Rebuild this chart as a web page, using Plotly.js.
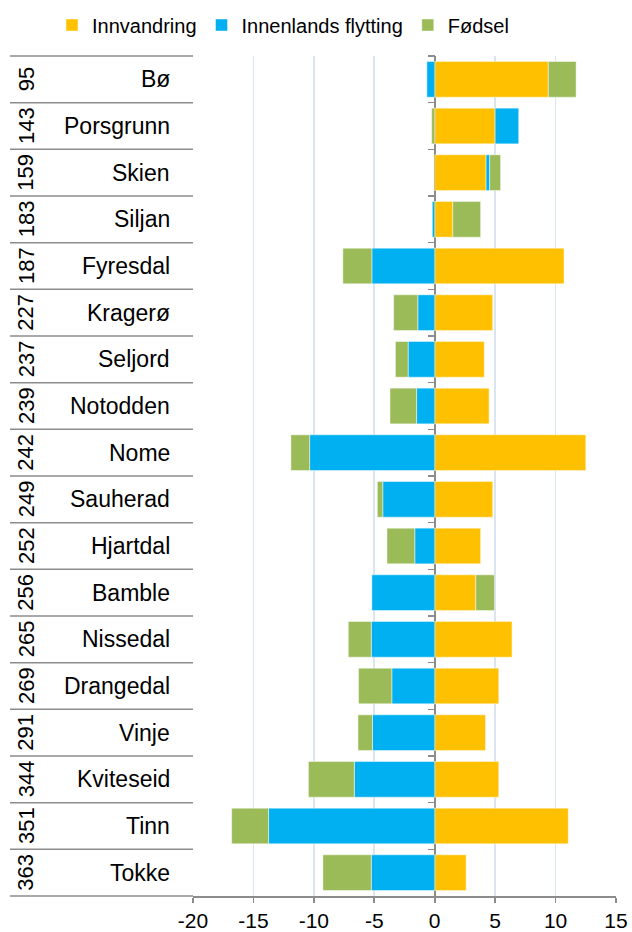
<!DOCTYPE html>
<html>
<head>
<meta charset="utf-8">
<script src="https://cdn.plot.ly/plotly-3.0.1.min.js"></script>
<style>html,body{margin:0;padding:0;background:#fff;}#chart{width:632px;height:932px;}</style>
</head>
<body>
<div id="chart"></div>
<script>
const ranks = [95,143,159,183,187,227,237,239,242,249,252,256,265,269,291,344,351,363];
const names = ['Bø','Porsgrunn','Skien','Siljan','Fyresdal','Kragerø','Seljord','Notodden','Nome','Sauherad','Hjartdal','Bamble','Nissedal','Drangedal','Vinje','Kviteseid','Tinn','Tokke'];
const innvandring = [9.4,5.0,4.25,1.5,10.7,4.8,4.1,4.5,12.5,4.8,3.8,3.4,6.4,5.3,4.2,5.3,11.05,2.6];
const innenlands = [-0.65,1.95,0.3,-0.2,-5.2,-1.4,-2.2,-1.5,-10.35,-4.3,-1.65,-5.2,-5.25,-3.55,-5.15,-6.65,-13.75,-5.25];
const fodsel = [2.3,-0.25,0.9,2.3,-2.4,-2.0,-1.05,-2.2,-1.55,-0.45,-2.3,1.55,-1.9,-2.75,-1.2,-3.8,-3.05,-4.0];
const seriesNames = ['Innvandring','Innenlands flytting','Fødsel'];
const xTicks = [-20,-15,-10,-5,0,5,10,15];

const colors = ['#FFC000','#00B0F0','#9BBB59'];
const font = 'Liberation Sans, Arial, sans-serif';
const W = 632, H = 932;
const mL = 193, mR = 16, mT = 56, mB = 36;
const plotW = W - mL - mR;
const plotH = H - mT - mB;
const px2paper = p => (p - mL) / plotW;

const traces = [innvandring, innenlands, fodsel].map((vals, k) => ({
  type: 'bar', orientation: 'h', name: seriesNames[k],
  y: names, x: vals,
  marker: {color: colors[k], line: {color: 'rgba(255,255,255,0.45)', width: 1}},
  hoverinfo: 'x+y+name'
}));

const n = names.length;
const shapes = [];
for (let k = 0; k <= n; k++) {
  shapes.push({type: 'line', xref: 'paper', yref: 'paper',
    x0: px2paper(10), x1: 0, y0: k / n, y1: k / n,
    line: {color: '#8c8c8c', width: 1.5}});
}

const annotations = [];
names.forEach((nm, i) => {
  annotations.push({xref: 'paper', yref: 'y', x: px2paper(172), y: nm, text: nm,
    xanchor: 'right', yanchor: 'middle', showarrow: false,
    font: {family: font, size: 23, color: '#000'}});
  annotations.push({xref: 'paper', yref: 'y', x: px2paper(26), y: nm, text: String(ranks[i]),
    textangle: -90, xanchor: 'center', yanchor: 'middle', showarrow: false,
    font: {family: font, size: 22, color: '#000'}});
});

const layout = {
  width: W, height: H,
  margin: {l: mL, r: mR, t: mT, b: mB, pad: 0, autoexpand: false},
  paper_bgcolor: '#fff', plot_bgcolor: '#fff',
  barmode: 'relative', bargap: 0.235,
  font: {family: font, size: 22, color: '#000'},
  showlegend: true,
  legend: {orientation: 'h', xref: 'paper', yref: 'paper',
    x: px2paper(52), y: 1 + (mT - 25) / plotH, xanchor: 'left', yanchor: 'middle',
    font: {family: font, size: 20, color: '#000'}, traceorder: 'normal',
    itemwidth: 30, tracegroupgap: 0, bgcolor: 'rgba(0,0,0,0)'},
  xaxis: {range: [-20, 15], tickvals: xTicks, ticktext: xTicks.map(String),
    showgrid: true, gridcolor: '#dbe4f1', gridwidth: 1.6,
    zeroline: true, zerolinecolor: '#8c8c8c', zerolinewidth: 1.6,
    showline: true, linecolor: '#8c8c8c', linewidth: 1.6,
    ticks: 'outside', ticklen: 5, tickwidth: 1.6, tickcolor: '#8c8c8c',
    tickfont: {family: font, size: 21, color: '#000'}, fixedrange: true},
  yaxis: {type: 'category', autorange: 'reversed', categoryorder: 'array', categoryarray: names,
    anchor: 'free', position: 20 / 35, side: 'left',
    showgrid: false, zeroline: false, showline: false,
    ticks: 'outside', tickson: 'boundaries', ticklen: 7, tickwidth: 1.6, tickcolor: '#8c8c8c',
    showticklabels: false, fixedrange: true},
  shapes: shapes,
  annotations: annotations
};

Plotly.newPlot('chart', traces, layout, {displayModeBar: false, staticPlot: true});
</script>
</body>
</html>
